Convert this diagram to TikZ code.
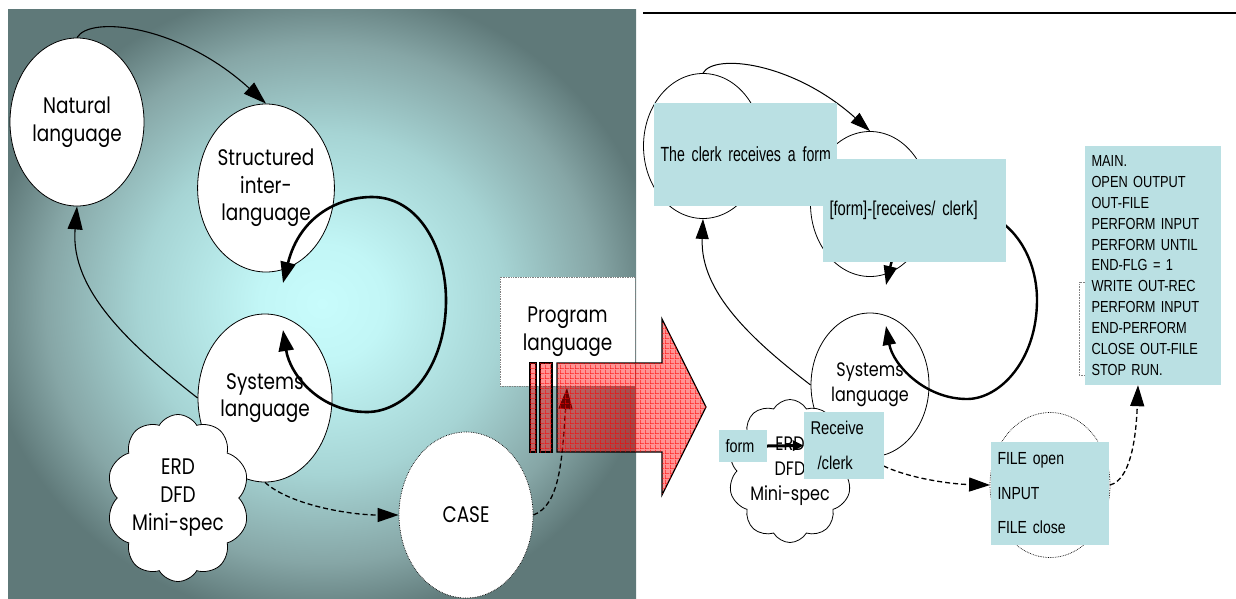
\documentclass[tikz,border=0pt]{standalone}
\usepackage{fontspec}
\setmainfont{Poppins}
\newfontfamily\labelfont[FakeStretch=0.82]{Poppins}
\newfontfamily\boxfont[FakeStretch=0.8]{Liberation Sans}
\newfontfamily\wideboxfont[FakeStretch=0.74]{Liberation Sans}
\newfontfamily\clerkfont[FakeStretch=0.69]{Liberation Sans}
\usetikzlibrary{arrows.meta,shapes.geometric,shapes.symbols,patterns,calc}

\definecolor{glowin}{HTML}{C8FCFC}
\definecolor{glowa}{HTML}{C2F6F6}
\definecolor{glowb}{HTML}{A6D4D4}
\definecolor{glowc}{HTML}{86A6A6}
\definecolor{glowout}{HTML}{5F7979}
\definecolor{notefill}{HTML}{BAE0E3}
\pgfdeclareradialshading{panelglow}{\pgfpoint{0bp}{0bp}}{%
  color(0bp)=(glowin); color(5bp)=(glowa); color(14.5bp)=(glowb);
  color(22bp)=(glowc); color(27bp)=(glowout); color(50bp)=(glowout)}

% open red mesh laid over the translation arrow
\pgfdeclarepatternformonly{redmesh}{\pgfpointorigin}{\pgfpoint{5pt}{5pt}}{\pgfpoint{5pt}{5pt}}{%
  \pgfsetlinewidth{0.7pt}%
  \pgfpathmoveto{\pgfpoint{0pt}{0.35pt}}\pgfpathlineto{\pgfpoint{5pt}{0.35pt}}%
  \pgfpathmoveto{\pgfpoint{0.35pt}{0pt}}\pgfpathlineto{\pgfpoint{0.35pt}{5pt}}%
  \pgfusepath{stroke}}

\begin{document}
\begin{tikzpicture}[x=1pt,y=-1pt,
  bubble/.style={ellipse, draw, line width=0.8pt, fill=white, inner sep=0pt,
    align=center, font=\fontsize{22.5}{27.5}\labelfont,
    minimum width=134pt, minimum height=168pt},
  smallbubble/.style={bubble, font=\fontsize{19.5}{25}\labelfont,
    minimum width=119pt, minimum height=145pt},
  dottedrim/.style={densely dotted, line width=0.7pt},
  puff/.style={cloud, cloud puffs=10, cloud puff arc=120, cloud ignores aspect,
    draw, line width=0.8pt, fill=white, inner sep=0pt, align=center},
  note/.style={fill=notefill, inner ysep=0pt, inner xsep=6.5pt, align=left},
  conn/.style={line width=1.1pt, -{Triangle[length=23pt,width=15pt]}},
  smallconn/.style={line width=1pt, -{Triangle[length=20pt,width=13pt]}},
  dashconn/.style={line width=1.3pt, dash pattern=on 5pt off 3pt,
    -{Triangle[length=21pt,width=14pt]}},
  loopconn/.style={line width=2.6pt,
    {Triangle[length=21pt,width=15pt]}-{Triangle[length=21pt,width=15pt]}},
  smallloop/.style={line width=2.4pt,
    {Triangle[length=19pt,width=13pt]}-{Triangle[length=19pt,width=13pt]}},
  blockarrow/.style={draw, line width=1.2pt, fill=red, fill opacity=0.42,
    postaction={pattern=redmesh, pattern color=red, fill opacity=0.8}},
]
\useasboundingbox (0,0) rectangle (1236,598);

% shaded panel behind the language ladder
\shade[shading=panelglow] (8,9) rectangle (636,598);
% rule across the top of the worked example
\draw[line width=1.4pt] (643,13) -- (1236,13);

% ---------- language ladder ----------
\node[bubble] (nat) at (77,122) {Natural\\language};
\node[bubble] (struct) at (266,188) {Structured\\inter-\\language};
\node[bubble] (sys) at (265,398) {Systems\\language};
\node[puff, font=\fontsize{22.5}{28}\labelfont, minimum width=135pt,
  minimum height=167pt] (tools) at (178,498) {ERD\\DFD\\Mini-spec};
\node[bubble, draw=none, minimum height=166pt] (case) at (466,515) {CASE};
\draw[dottedrim] (case.center) ellipse[x radius=67pt, y radius=83pt];
\node[fill=white, draw=gray, densely dotted, line width=0.7pt,
  minimum width=135pt, minimum height=109pt, inner sep=0pt, align=center,
  font=\fontsize{22.5}{28}\labelfont] (prog) at (567.5,331.5) {Program\\language};

\draw[conn] (nat.north) .. controls (90,15) and (180,25) .. (struct.north);
\draw[conn] (sys.west) .. controls (130,345) and (70,290) .. (nat.south);
\coordinate (loopin) at (283,283);
\coordinate (loopout) at (283,330);
\draw[loopconn] (loopin) .. controls (300,215) and (340,197) .. (372,197)
  .. controls (420,197) and (446,250) .. (446,300)
  .. controls (446,370) and (405,412) .. (367,412)
  .. controls (320,412) and (290,375) .. (loopout);
\draw[dashconn] (sys.south) .. controls (290,505) and (350,515) .. (case.west);
\coordinate (progfoot) at (567,388);
\draw[dashconn] (case.east) .. controls (560,505) and (562,460) .. (progfoot);

% translation arrow
\path[blockarrow] (530,363) rectangle (536,452);
\path[blockarrow] (540,363) rectangle (552,452);
\path[blockarrow] (557,363) -- (662,363) -- (662,319) -- (706,407)
  -- (662,495) -- (662,452) -- (557,452) -- cycle;

% ---------- worked example ----------
\node[smallbubble] (nat2) at (703,146) {};
\node[smallbubble] (struct2) at (870,204) {};
\node[smallbubble, minimum width=118pt, minimum height=144pt] (sys2) at (870,385) {Systems\\language};
\node[puff, font=\fontsize{19.5}{25}\labelfont, minimum width=114pt,
  minimum height=143pt] (tools2) at (790,471) {ERD\\DFD\\Mini-spec};
\node[smallbubble, draw=none] (case2) at (1050,485) {};
\draw[dottedrim] (case2.center) ellipse[x radius=60pt, y radius=72.5pt];

\draw[smallconn] (nat2.north) .. controls (714,53) and (793,62) .. (struct2.north);
\draw[smallconn] (sys2.west) .. controls (752,340) and (700,292) .. (nat2.south);
\coordinate (loop2in) at (886,285);
\coordinate (loop2out) at (886,326);
\draw[smallloop] (loop2in) .. controls (900,225) and (935,208) .. (960,208)
  .. controls (1010,210) and (1037,255) .. (1037,300)
  .. controls (1037,360) and (1000,399) .. (967,399)
  .. controls (925,399) and (893,365) .. (loop2out);
\draw[dashconn] (sys2.south) .. controls (890,475) and (945,484) .. (case2.west);

% bracket beside the program listing
\draw[densely dotted, gray, line width=0.6pt] (1085,282) -| (1079,375) -- (1085,375);

\node[note, font=\fontsize{20.5}{24}\clerkfont, text width=170pt,
  minimum height=103pt] (clerk) at (745.5,154.5) {\mbox{The clerk receives a form}};
\node[note, font=\fontsize{20}{24}\wideboxfont, text width=170pt,
  minimum height=103pt] (graph) at (914.5,210.5) {\mbox{[form]-[receives/ clerk]}};
\node[note, font=\fontsize{16}{20.9}\boxfont, text width=123pt,
  minimum height=239pt] (cobol) at (1153,265.5)
  {MAIN.\\OPEN OUTPUT\\OUT-FILE\\PERFORM INPUT\\PERFORM UNTIL\\END-FLG = 1\\WRITE OUT-REC\\PERFORM INPUT\\END-PERFORM\\CLOSE OUT-FILE\\STOP RUN.};
\node[note, font=\fontsize{17.5}{34.5}\boxfont, text width=105pt,
  minimum height=103pt] (fileops) at (1050,493.5) {FILE open\\INPUT\\FILE close};
\node[note, font=\fontsize{18.5}{35}\boxfont, text width=67pt,
  minimum height=67pt] (recv) at (844,445.5) {Receive\\\hspace*{7pt}/clerk};
\node[note, font=\fontsize{18}{22}\boxfont, text width=35pt,
  minimum height=32pt] (form) at (743,446) {form};

\draw[line width=3pt, -{Triangle[length=11pt,width=10pt]}] (form.east) -- (recv.west);
\coordinate (cobolfoot) at ($(cobol.south)+(-15,0)$);
\draw[dashconn] (case2.east) .. controls (1130,480) and (1136,440) .. (cobolfoot);
\end{tikzpicture}
\end{document}
